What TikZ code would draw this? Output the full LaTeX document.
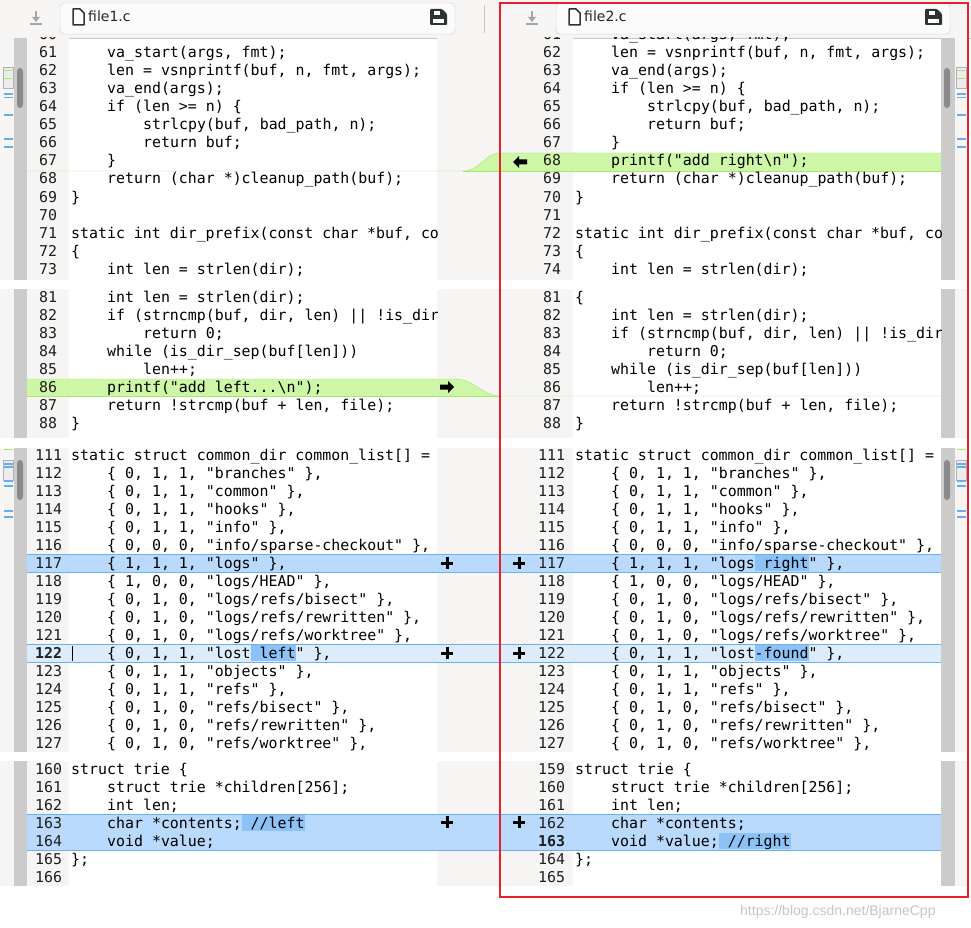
\documentclass[tikz,border=0pt]{standalone}
\usepackage{fontspec}
\newfontfamily\mono{DejaVu Sans Mono}
\newfontfamily\uisans{DejaVu Sans}
\newfontfamily\wmfont{Liberation Sans}
\definecolor{gbg}{HTML}{F6F5F4}
\definecolor{trough}{HTML}{CBCBCB}
\definecolor{slider}{HTML}{8A8A8A}
\definecolor{bband}{HTML}{B9DAFC}
\definecolor{bband2}{HTML}{DDECFC}
\definecolor{bedge}{HTML}{6DB0F2}
\definecolor{binner}{HTML}{8DC2F6}
\definecolor{gband}{HTML}{CDF6A6}
\definecolor{gedge}{HTML}{A5E86C}
\definecolor{redbox}{HTML}{E8202A}
\definecolor{tabedge}{HTML}{CDC7C2}
\definecolor{icon}{HTML}{2E3436}
\definecolor{mapc}{HTML}{62AEF7}
\tikzset{
  numsty/.style={anchor=base west,inner sep=0,font=\mono\fontsize{14.9}{18}\selectfont,text=black!88},
  codesty/.style={anchor=base west,inner sep=0,font=\mono\fontsize{14.9}{18}\selectfont,text=black},
  plusmark/.style={line width=3pt},
}
\newcommand\IA{\hspace*{36pt}}
\newcommand\IB{\hspace*{72pt}}
\newcommand\Lrow[4]{\node[numsty] (L#2) at (#1,#3+5) {#2};\node[codesty] (LT#2) at (71,#3+5) {#4};}
\newcommand\Rrow[4]{\node[numsty] (R#2) at (#1,#3+5) {#2};\node[codesty] (RT#2) at (575,#3+5) {#4};}
\begin{document}
\begin{tikzpicture}[x=1pt,y=-1pt]
\useasboundingbox (0,0) rectangle (971,928);
\fill[white] (0,0) rectangle (971,928);
% toolbar
\fill[gbg] (0,0) rectangle (971,38);
\draw[tabedge] (0,38) -- (971,38);
\draw[tabedge,fill=white!60!gbg,rounded corners=4pt] (60,3) rectangle (455,34);
\draw[tabedge,fill=white!60!gbg,rounded corners=4pt] (556,3) rectangle (950,34);
\draw[tabedge] (484,5) -- (484,33);
\foreach \ax in {36,532}{
  \draw[gray!70,line width=1.4pt] (\ax,11) -- (\ax,20);
  \fill[gray!70] (\ax-4,17) -- (\ax+4,17) -- (\ax,22) -- cycle;
  \draw[gray!70,line width=1.4pt] (\ax-6,24) -- (\ax+6,24);
}
\foreach \dx in {73,569}{
  \draw[icon,line width=1.5pt,line join=round] (\dx,9) -- (\dx+7,9) -- (\dx+11,13) -- (\dx+11,25) -- (\dx,25) -- cycle;
}
\foreach \sx in {430,925}{
  \fill[icon,rounded corners=1pt] (\sx,9) -- (\sx+12,9) -- (\sx+17,14) -- (\sx+17,25) -- (\sx,25) -- cycle;
  \fill[white] (\sx+4,11) rectangle (\sx+10,15);
  \fill[white] (\sx+3,19) rectangle (\sx+14,23);
}
\node[anchor=base west,inner sep=0,font=\uisans\fontsize{14}{16}\selectfont,text=black!85] (tab1) at (88,22) {file1.c};
\node[anchor=base west,inner sep=0,font=\uisans\fontsize{14}{16}\selectfont,text=black!85] (tab2) at (584,22) {file2.c};
% chunk backgrounds
\foreach \ya/\yb in {38/280,289/438,448/752,761/886}{
  \fill[gbg] (0,\ya) rectangle (14,\yb);
  \fill[trough] (14,\ya) rectangle (27,\yb);
  \fill[gbg] (27,\ya) rectangle (69,\yb);
  \fill[gbg] (437,\ya) rectangle (573,\yb);
  \fill[trough] (941,\ya) rectangle (955,\yb);
  \fill[gbg] (955,\ya) rectangle (968,\yb);
}
\foreach \sx in {17,944}{
  \fill[slider,rounded corners=3pt] (\sx,68) rectangle (\sx+6,108);
  \fill[slider,rounded corners=3pt] (\sx,460) rectangle (\sx+6,500);
}
\foreach \mx in {2,955}{
  \draw[gray!60,fill=gray!15] (\mx+1,67) rectangle (\mx+11,88);
  \draw[gedge,line width=1pt] (\mx+2,71) -- (\mx+10,71) (\mx+2,79) -- (\mx+10,79);
  \draw[mapc,line width=1.3pt] (\mx+2,94) -- (\mx+11,94) (\mx+2,97.5) -- (\mx+11,97.5)
     (\mx+2,115) -- (\mx+11,115) (\mx+2,139) -- (\mx+11,139) (\mx+2,147) -- (\mx+11,147);
  \draw[gedge,line width=1pt] (\mx+2,449) -- (\mx+11,449);
  \draw[gray!60,fill=gray!15] (\mx+1,460) rectangle (\mx+11,480);
  \draw[mapc,line width=1.3pt] (\mx+2,464) -- (\mx+11,464) (\mx+2,467) -- (\mx+11,467)
     (\mx+2,481) -- (\mx+11,481) (\mx+2,486) -- (\mx+11,486) (\mx+2,511) -- (\mx+11,511) (\mx+2,517) -- (\mx+11,517);
}
% green changes
\fill[gband] (463,171) .. controls (480,171) and (485,153) .. (500,153) -- (941,153) -- (941,171) -- cycle;
\draw[gedge] (27,171) -- (463,171) .. controls (480,171) and (485,153) .. (500,153) -- (941,153);
\draw[gedge] (463,171) -- (941,171);
\fill[gband] (27,379) -- (455,379) .. controls (475,379) and (482,396) .. (500,396) -- (27,396) -- cycle;
\draw[gedge] (27,379) -- (455,379) .. controls (475,379) and (482,396) .. (500,396) -- (941,396);
\draw[gedge] (27,396) -- (500,396);
% blue bands
\fill[bband] (27,554) rectangle (941,572);
\draw[bedge] (27,554) -- (941,554) (27,572) -- (941,572);
\fill[bband2] (27,644) rectangle (941,662);
\draw[bedge] (27,644) -- (941,644) (27,662) -- (941,662);
\fill[bband] (27,814) rectangle (941,850);
\draw[bedge] (27,814) -- (941,814) (27,850) -- (941,850);
\fill[binner] (755,555) rectangle (809,571);
\fill[binner] (251,645) rectangle (296,661);
\fill[binner] (755,645) rectangle (809,661);
\fill[binner] (242,815) rectangle (305,831);
\fill[binner] (719,833) rectangle (791,849);
% arrows and pluses
\fill[black] (513,162) -- (519,156) -- (519,159.5) -- (527,159.5) -- (527,164.5) -- (519,164.5) -- (519,168) -- cycle;
\fill[black] (454,387) -- (448,381) -- (448,384.5) -- (440,384.5) -- (440,389.5) -- (448,389.5) -- (448,393) -- cycle;
\foreach \py in {563,653,822}{
  \draw[plusmark] (441,\py) -- (453,\py) (447,\py-6) -- (447,\py+6);
  \draw[plusmark] (513,\py) -- (525,\py) (519,\py-6) -- (519,\py+6);
}
\draw[black] (72,646) -- (72,661);
% LEFT TEXT
\begin{scope}
\clip (27,38) rectangle (437,886);
\Lrow{39}{60}{35}{}
\Lrow{39}{61}{53}{\IA va\_start(args, fmt);}
\Lrow{39}{62}{71}{\IA len = vsnprintf(buf, n, fmt, args);}
\Lrow{39}{63}{89}{\IA va\_end(args);}
\Lrow{39}{64}{107}{\IA if (len >= n) \{}
\Lrow{39}{65}{125}{\IB strlcpy(buf, bad\_path, n);}
\Lrow{39}{66}{143}{\IB return buf;}
\Lrow{39}{67}{161}{\IA \}}
\Lrow{39}{68}{179}{\IA return (char *)cleanup\_path(buf);}
\Lrow{39}{69}{197}{\}}
\Lrow{39}{70}{215}{}
\Lrow{39}{71}{233}{static int dir\_prefix(const char *buf, co}
\Lrow{39}{72}{251}{\{}
\Lrow{39}{73}{269}{\IA int len = strlen(dir);}
\Lrow{39}{81}{297}{\IA int len = strlen(dir);}
\Lrow{39}{82}{315}{\IA if (strncmp(buf, dir, len) || !is\_dir}
\Lrow{39}{83}{333}{\IB return 0;}
\Lrow{39}{84}{351}{\IA while (is\_dir\_sep(buf[len]))}
\Lrow{39}{85}{369}{\IB len++;}
\Lrow{39}{86}{387}{\IA printf("add left...\textbackslash n");}
\Lrow{39}{87}{405}{\IA return !strcmp(buf + len, file);}
\Lrow{39}{88}{423}{\}}
\Lrow{35}{111}{455}{static struct common\_dir common\_list[] =}
\Lrow{35}{112}{473}{\IA \{ 0, 1, 1, "branches" \},}
\Lrow{35}{113}{491}{\IA \{ 0, 1, 1, "common" \},}
\Lrow{35}{114}{509}{\IA \{ 0, 1, 1, "hooks" \},}
\Lrow{35}{115}{527}{\IA \{ 0, 1, 1, "info" \},}
\Lrow{35}{116}{545}{\IA \{ 0, 0, 0, "info/sparse-checkout" \},}
\Lrow{35}{117}{563}{\IA \{ 1, 1, 1, "logs" \},}
\Lrow{35}{118}{581}{\IA \{ 1, 0, 0, "logs/HEAD" \},}
\Lrow{35}{119}{599}{\IA \{ 0, 1, 0, "logs/refs/bisect" \},}
\Lrow{35}{120}{617}{\IA \{ 0, 1, 0, "logs/refs/rewritten" \},}
\Lrow{35}{121}{635}{\IA \{ 0, 1, 0, "logs/refs/worktree" \},}
\node[numsty,font=\mono\bfseries\fontsize{14.9}{18}\selectfont] (L122) at (35,658) {122};
\node[codesty] (LT122) at (71,658) {\IA \{ 0, 1, 1, "lost left" \},};
\Lrow{35}{123}{671}{\IA \{ 0, 1, 1, "objects" \},}
\Lrow{35}{124}{689}{\IA \{ 0, 1, 1, "refs" \},}
\Lrow{35}{125}{707}{\IA \{ 0, 1, 0, "refs/bisect" \},}
\Lrow{35}{126}{725}{\IA \{ 0, 1, 0, "refs/rewritten" \},}
\Lrow{35}{127}{743}{\IA \{ 0, 1, 0, "refs/worktree" \},}
\Lrow{35}{160}{769}{struct trie \{}
\Lrow{35}{161}{787}{\IA struct trie *children[256];}
\Lrow{35}{162}{805}{\IA int len;}
\Lrow{35}{163}{823}{\IA char *contents; //left}
\Lrow{35}{164}{841}{\IA void *value;}
\Lrow{35}{165}{859}{\};}
\Lrow{35}{166}{877}{}
\end{scope}
% RIGHT TEXT
\begin{scope}
\clip (500,38) rectangle (941,886);
\Rrow{543}{61}{35}{\IA va\_start(args, fmt);}
\Rrow{543}{62}{53}{\IA len = vsnprintf(buf, n, fmt, args);}
\Rrow{543}{63}{71}{\IA va\_end(args);}
\Rrow{543}{64}{89}{\IA if (len >= n) \{}
\Rrow{543}{65}{107}{\IB strlcpy(buf, bad\_path, n);}
\Rrow{543}{66}{125}{\IB return buf;}
\Rrow{543}{67}{143}{\IA \}}
\Rrow{543}{68}{161}{\IA printf("add right\textbackslash n");}
\Rrow{543}{69}{179}{\IA return (char *)cleanup\_path(buf);}
\Rrow{543}{70}{197}{\}}
\Rrow{543}{71}{215}{}
\Rrow{543}{72}{233}{static int dir\_prefix(const char *buf, co}
\Rrow{543}{73}{251}{\{}
\Rrow{543}{74}{269}{\IA int len = strlen(dir);}
\Rrow{543}{81}{297}{\{}
\Rrow{543}{82}{315}{\IA int len = strlen(dir);}
\Rrow{543}{83}{333}{\IA if (strncmp(buf, dir, len) || !is\_dir}
\Rrow{543}{84}{351}{\IB return 0;}
\Rrow{543}{85}{369}{\IA while (is\_dir\_sep(buf[len]))}
\Rrow{543}{86}{387}{\IB len++;}
\Rrow{543}{87}{405}{\IA return !strcmp(buf + len, file);}
\Rrow{543}{88}{423}{\}}
\Rrow{538}{111}{455}{static struct common\_dir common\_list[] =}
\Rrow{538}{112}{473}{\IA \{ 0, 1, 1, "branches" \},}
\Rrow{538}{113}{491}{\IA \{ 0, 1, 1, "common" \},}
\Rrow{538}{114}{509}{\IA \{ 0, 1, 1, "hooks" \},}
\Rrow{538}{115}{527}{\IA \{ 0, 1, 1, "info" \},}
\Rrow{538}{116}{545}{\IA \{ 0, 0, 0, "info/sparse-checkout" \},}
\Rrow{538}{117}{563}{\IA \{ 1, 1, 1, "logs right" \},}
\Rrow{538}{118}{581}{\IA \{ 1, 0, 0, "logs/HEAD" \},}
\Rrow{538}{119}{599}{\IA \{ 0, 1, 0, "logs/refs/bisect" \},}
\Rrow{538}{120}{617}{\IA \{ 0, 1, 0, "logs/refs/rewritten" \},}
\Rrow{538}{121}{635}{\IA \{ 0, 1, 0, "logs/refs/worktree" \},}
\Rrow{538}{122}{653}{\IA \{ 0, 1, 1, "lost-found" \},}
\Rrow{538}{123}{671}{\IA \{ 0, 1, 1, "objects" \},}
\Rrow{538}{124}{689}{\IA \{ 0, 1, 1, "refs" \},}
\Rrow{538}{125}{707}{\IA \{ 0, 1, 0, "refs/bisect" \},}
\Rrow{538}{126}{725}{\IA \{ 0, 1, 0, "refs/rewritten" \},}
\Rrow{538}{127}{743}{\IA \{ 0, 1, 0, "refs/worktree" \},}
\Rrow{538}{159}{769}{struct trie \{}
\Rrow{538}{160}{787}{\IA struct trie *children[256];}
\Rrow{538}{161}{805}{\IA int len;}
\Rrow{538}{162}{823}{\IA char *contents;}
\node[numsty,font=\mono\bfseries\fontsize{14.9}{18}\selectfont] (R163) at (538,846) {163};
\node[codesty] (RT163) at (575,846) {\IA void *value; //right};
\Rrow{538}{164}{859}{\};}
\Rrow{538}{165}{877}{}
\end{scope}
\draw[redbox,line width=2.5pt] (500,3) rectangle (968,897);
\node[anchor=base west,inner sep=0,font=\wmfont\fontsize{14}{16}\selectfont,text=gray!45] (wm) at (740,915) {https://blog.csdn.net/BjarneCpp};
\end{tikzpicture}
\end{document}
